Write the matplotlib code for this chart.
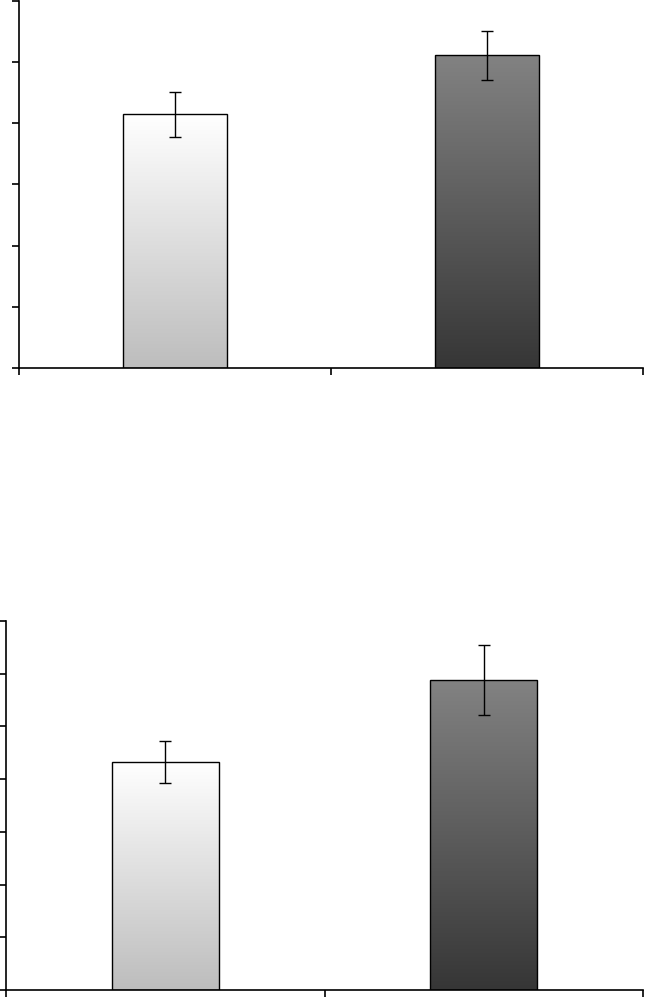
import numpy as np
import matplotlib
matplotlib.use("Agg")
import matplotlib.pyplot as plt
from matplotlib.colors import LinearSegmentedColormap

categories = ["A", "B"]
top_values = [4.15, 5.11]
top_errors = [0.37, 0.40]
bottom_values = [4.33, 5.88]
bottom_errors = [0.40, 0.67]
top_ymax = 6
bottom_ymax = 7

W, H = 645, 997
fig = plt.figure(figsize=(W / 100, H / 100), dpi=100)

grad_light = LinearSegmentedColormap.from_list("light", ["#bdbdbd", "#ffffff"])
grad_dark = LinearSegmentedColormap.from_list("dark", ["#363636", "#828282"])
cmaps = [grad_light, grad_dark]


def panel(rect, values, errors, ymax):
    ax = fig.add_axes(rect)
    x = np.arange(len(categories))
    width = 0.336
    bars = ax.bar(x, values, width=width, facecolor="none", edgecolor="black",
                  linewidth=1.0, zorder=3)
    grad = np.linspace(0, 1, 256).reshape(-1, 1)
    for b, cm in zip(bars, cmaps):
        x0, y0 = b.get_x(), b.get_y()
        im = ax.imshow(grad, cmap=cm, origin="lower", aspect="auto",
                       extent=[x0, x0 + b.get_width(), y0, y0 + b.get_height()],
                       zorder=2)
        im.set_clip_path(b)
    ax.errorbar(x, values, yerr=errors, fmt="none", ecolor="black",
                elinewidth=1.0, capsize=4, capthick=1.0, zorder=4)
    ax.set_xlim(-0.5, len(categories) - 0.5)
    ax.set_ylim(0, ymax)
    ax.set_yticks(np.arange(0, ymax + 1, 1))
    ax.set_yticklabels([])
    ax.set_xticks(np.arange(-0.5, len(categories), 1.0))
    ax.set_xticklabels([])
    for s in ["top", "right"]:
        ax.spines[s].set_visible(False)
    for s in ["left", "bottom"]:
        ax.spines[s].set_linewidth(1.2)
    ax.tick_params(axis="y", direction="out", length=5, width=1.2)
    ax.tick_params(axis="x", direction="out", length=5, width=1.2)
    return ax


def rect_px(left, right, top, bottom):
    return [left / W, 1 - bottom / H, (right - left) / W, (bottom - top) / H]


panel(rect_px(19, 643, 1, 368), top_values, top_errors, top_ymax)
panel(rect_px(6, 643, 621, 990), bottom_values, bottom_errors, bottom_ymax)

fig.savefig("out.png", dpi=100)
